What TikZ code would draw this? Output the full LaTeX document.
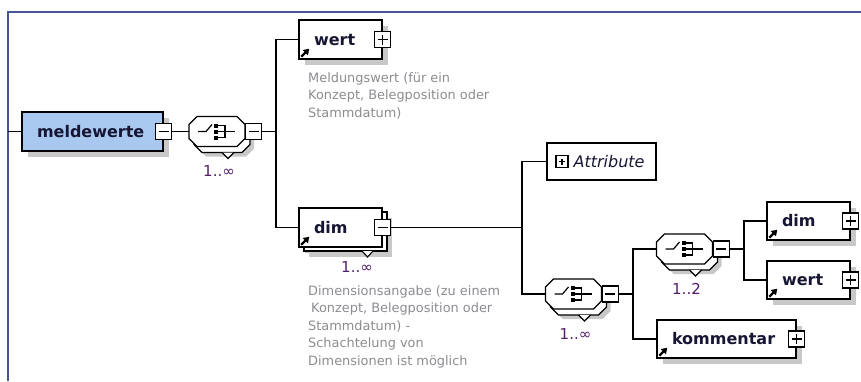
\documentclass[tikz,border=0pt]{standalone}
\usepackage{fontspec}
\setmainfont{DejaVu Sans}
\usepackage{xcolor}
\usepackage{tikz}
\usetikzlibrary{calc, shadows, arrows.meta}

\definecolor{framecol}{RGB}{72,84,150}
\definecolor{rootblue}{RGB}{168,200,240}
\definecolor{labelcol}{RGB}{22,22,52}
\definecolor{desccol}{RGB}{140,140,145}
\definecolor{occcol}{RGB}{80,30,105}
\definecolor{shadowgray}{RGB}{200,200,200}

\tikzset{
  conn/.style={line width=1.4pt},
  elem/.style={draw=black, line width=1.5pt, fill=white, minimum height=38pt,
    inner xsep=15pt, inner ysep=0pt, text width=#1, align=left, text=labelcol,
    font=\fontsize{16}{18}\bfseries\selectfont,
    drop shadow={shadow xshift=6pt, shadow yshift=-6pt, fill=shadowgray, opacity=1}},
  elem/.default=53pt,
  attrbox/.style={draw=black, line width=1.5pt, fill=white, minimum height=37pt,
    inner xsep=11.5pt, text width=86pt, align=right, text=labelcol,
    font=\fontsize{16}{18}\itshape\selectfont},
  pmbox/.style={draw=black, line width=1.2pt, fill=white, minimum size=16pt, inner sep=0pt},
  pmminus/.style={pmbox, path picture={
    \draw[line width=1.1pt] ([xshift=3pt]path picture bounding box.west) -- ([xshift=-3pt]path picture bounding box.east);}},
  pmplus/.style={pmbox, path picture={
    \draw[line width=1.1pt] ([xshift=3pt]path picture bounding box.west) -- ([xshift=-3pt]path picture bounding box.east);
    \draw[line width=1.1pt] ([yshift=3pt]path picture bounding box.south) -- ([yshift=-3pt]path picture bounding box.north);}},
  seqhold/.style={minimum width=56pt, minimum height=30pt, inner sep=0pt},
  occ/.style={text=occcol, font=\fontsize{15}{17}\selectfont, inner sep=0pt},
  desc/.style={anchor=north west, inner sep=0pt, align=left, text=desccol,
    font=\fontsize{12.9}{17.5}\selectfont},
  linkarrow/.style={line width=2.2pt, -{Triangle[length=5.5pt,width=7pt]}}
}

% octagon of a compositor: centre x, centre y, options
\newcommand{\octagon}[3]{%
  \draw[#3] (#1-20,#2-15) -- (#1+20,#2-15) -- (#1+28,#2-7) -- (#1+28,#2+7)
    -- (#1+20,#2+15) -- (#1-20,#2+15) -- (#1-28,#2+7) -- (#1-28,#2-7) -- cycle;}

% sequence compositor with stacked copy: name, x, y, occurrence
\newcommand{\compositor}[4]{%
  \octagon{#2+9}{#3+10}{fill=shadowgray, draw=none}
  \octagon{#2+5}{#3+6}{fill=white, line width=1.3pt}
  \draw[fill=white, line width=1.1pt] (#2+5,#3+21) -- (#2+11,#3+27) -- (#2+17,#3+21);
  \octagon{#2}{#3}{fill=white, line width=1.3pt}
  \node[seqhold] (#1) at (#2,#3) {};
  \draw[line width=1.2pt] (#2-19,#3) -- (#2-11,#3) -- (#2-5,#3-7);
  \fill (#2-3,#3-8) rectangle (#2+1,#3-4);
  \fill (#2-3,#3-2) rectangle (#2+1,#3+2);
  \fill (#2-3,#3+4) rectangle (#2+1,#3+8);
  \draw[line width=1.2pt] (#2+1,#3-6) -- (#2+8,#3-6) -- (#2+8,#3+6) -- (#2+1,#3+6);
  \draw[line width=1.2pt] (#2+1,#3) -- (#2+18,#3);
  \node[pmminus, anchor=west] (#1m) at (#1.east) {};
  \node[occ] (#1o) at (#2+2,#3+40) {#4};
}

\begin{document}
\begin{tikzpicture}[x=1pt, y=-1pt]
    \useasboundingbox (0,0) rectangle (861,381);
    \draw[framecol, line width=2pt] (8,381) -- (8,12) -- (861,12);

    % root element
    \coordinate (in) at (8,131.5);
    \node[elem=111pt, fill=rootblue, minimum height=39pt] (mw) at (92.5,131.5) {meldewerte};
    \node[pmminus] (mwm) at (mw.east) {};
    \draw[conn] (in) -- (mw.west);

    \compositor{s1}{217}{131.5}{1..∞}
    \draw[conn] (mwm.east) -- (s1.west);

    % wert
    \node[elem, minimum height=39pt] (wert) at (340.5,39.5) {wert};
    \node[pmplus] (wertp) at (wert.east) {};
    \draw[linkarrow] ([xshift=3pt,yshift=3pt]wert.south west) -- ++(8,-8);
    \node[desc] (wertd) at (308,72) {Meldungswert (für ein\\Konzept, Belegposition oder\\Stammdatum)};

    % dim
    \node[elem, minimum height=39pt,
      drop shadow={shadow xshift=10pt, shadow yshift=-10pt, fill=shadowgray, opacity=1},
      copy shadow={shadow xshift=5pt, shadow yshift=-4pt, fill=white, draw=black, line width=1.5pt}]
      (dim) at (340.5,227.5) {dim};
    \draw[fill=white, line width=1.1pt] (362,251) -- (367.5,257) -- (373,251);
    \node[pmminus] (dimm) at (dim.east) {};
    \draw[linkarrow] ([xshift=3pt,yshift=3pt]dim.south west) -- ++(8,-8);
    \node[occ] (dimo) at (357,267) {1..∞};
    \node[desc] (dimd) at (308,285) {Dimensionsangabe (zu einem\\\hspace*{3pt}Konzept, Belegposition oder\\Stammdatum) -\\Schachtelung von\\Dimensionen ist möglich};

    \coordinate (j1) at (276,131.5);
    \draw[conn] (s1m.east) -- (j1);
    \draw[conn] (wert.west) -| (j1) |- (dim.west);

    % content of dim
    \node[attrbox] (attr) at (601.5,161.5) {Attribute};
    \node[pmplus, minimum size=12pt] (attrp) at (562,161.5) {};

    \compositor{s3}{573.5}{294}{1..∞}

    \coordinate (j2) at (522,227.5);
    \draw[conn] (dimm.east) -- (j2);
    \draw[conn] (attr.west) -| (j2) |- (s3.west);

    \compositor{s2}{684.5}{249}{1..2}
    \node[elem=109pt] (komm) at (726.5,339) {kommentar};
    \node[pmplus] (kommp) at (komm.east) {};
    \draw[linkarrow] ([xshift=3pt,yshift=3pt]komm.south west) -- ++(8,-8);

    \coordinate (j3) at (633,294);
    \draw[conn] (s3m.east) -- (j3);
    \draw[conn] (s2.west) -| (j3) |- (komm.west);

    \node[elem] (dimb) at (808.5,221) {dim};
    \node[pmplus] (dimbp) at (dimb.east) {};
    \draw[linkarrow] ([xshift=3pt,yshift=3pt]dimb.south west) -- ++(8,-8);
    \node[elem] (wertb) at (808.5,280) {wert};
    \node[pmplus] (wertbp) at (wertb.east) {};
    \draw[linkarrow] ([xshift=3pt,yshift=3pt]wertb.south west) -- ++(8,-8);

    \coordinate (j4) at (744,249);
    \draw[conn] (s2m.east) -- (j4);
    \draw[conn] (dimb.west) -| (j4) |- (wertb.west);
\end{tikzpicture}
\end{document}
